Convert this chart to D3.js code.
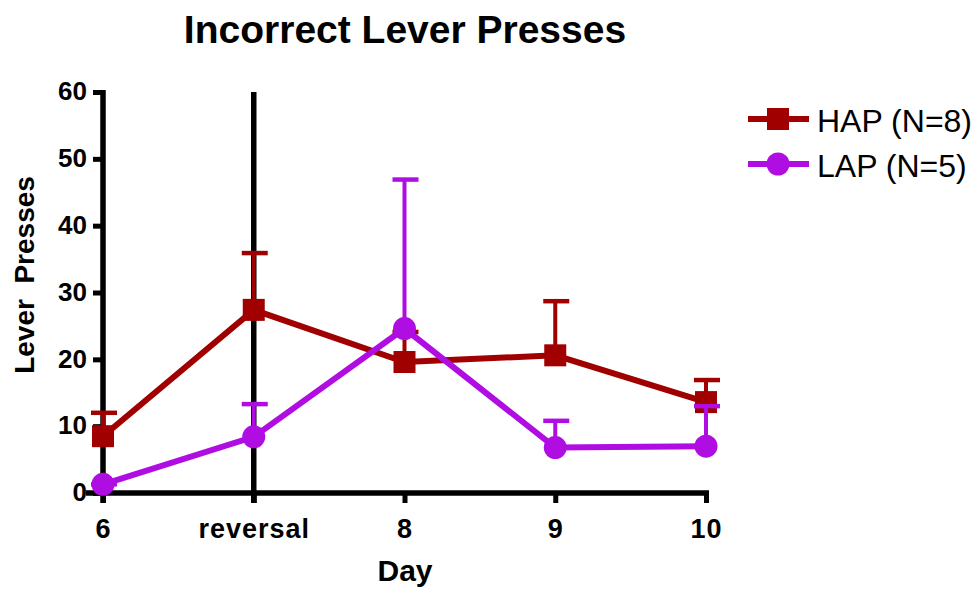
<!DOCTYPE html>
<html>
<head>
<meta charset="utf-8">
<script src="https://cdn.jsdelivr.net/npm/d3@7"></script>
<style>
  body { margin: 0; background: #fff; }
  text { font-family: "Liberation Sans", Arial, sans-serif; }
</style>
</head>
<body>
<svg id="chart" width="979" height="590"></svg>
<script>
// Chart data
const days = ["6", "reversal", "8", "9", "10"];
const hapMean = [8.5, 27.4, 19.6, 20.6, 13.6];
const hapErr = [12.0, 35.9, 24.1, 28.7, 16.9];
const lapMean = [1.3, 8.4, 24.6, 6.8, 7.0];
const lapErr = [1.3, 13.3, 46.9, 10.8, 13.0];
const yTicks = [0, 10, 20, 30, 40, 50, 60];
const seriesNames = ["HAP (N=8)", "LAP (N=5)"];

const svg = d3.select("#chart");
const plotLeft = 103, plotRight = 706, plotTop = 92, plotBottom = 493;

// scales
const x = d3.scalePoint().domain(days).range([plotLeft, plotRight]);
const y = d3.scaleLinear().domain([0, 60]).range([plotBottom, plotTop]);

// title
svg.append("text")
  .attr("x", 405).attr("y", 43)
  .attr("text-anchor", "middle")
  .style("font-size", "39px").style("font-weight", "bold")
  .text("Incorrect Lever Presses");

// the vertical line at reversal
svg.append("line")
  .attr("x1", x("reversal")).attr("x2", x("reversal"))
  .attr("y1", plotTop).attr("y2", plotBottom + 10)
  .attr("stroke", "#000").attr("stroke-width", 5.5);

// y axis
const yAxis = svg.append("g")
  .attr("transform", "translate(" + plotLeft + ",0)")
  .call(d3.axisLeft(y).tickValues(yTicks).tickSize(10).tickPadding(6));
yAxis.select(".domain").attr("d", "M0," + (plotTop - 2) + "V" + (plotBottom + 10))
  .attr("stroke-width", 5.5).attr("stroke", "#000");
yAxis.selectAll(".tick line").attr("stroke-width", 5).attr("stroke", "#000");
yAxis.selectAll(".tick text")
  .style("font-size", "26px").style("font-weight", "bold").attr("fill", "#000")
  .attr("dy", "0.3em");

// x axis
const xAxis = svg.append("g")
  .attr("transform", "translate(0," + plotBottom + ")")
  .call(d3.axisBottom(x).tickSize(10).tickPadding(16));
xAxis.select(".domain").attr("d", "M" + (plotLeft - 17) + ",0H" + (plotRight + 3))
  .attr("stroke-width", 5.5).attr("stroke", "#000");
xAxis.selectAll(".tick line").attr("stroke-width", 5).attr("stroke", "#000");
xAxis.selectAll(".tick text")
  .style("font-size", "27px").style("font-weight", "bold").attr("fill", "#000")
  .style("letter-spacing", "1px");

// axis titles
svg.append("text")
  .attr("x", 405).attr("y", 581)
  .attr("text-anchor", "middle")
  .style("font-size", "30px").style("font-weight", "bold")
  .text("Day");

svg.append("text")
  .attr("transform", "translate(34,275) rotate(-90)")
  .attr("text-anchor", "middle")
  .style("font-size", "28px").style("font-weight", "bold")
  .style("white-space", "pre")
  .text("Lever  Presses");

// draws one series: error bars, line, markers
function drawSeries(means, errs, color, shape) {
  const g = svg.append("g");
  means.forEach(function(m, i) {
    const cx = x(days[i]);
    g.append("line")
      .attr("x1", cx).attr("x2", cx)
      .attr("y1", y(m)).attr("y2", y(errs[i]))
      .attr("stroke", color).attr("stroke-width", 4);
    g.append("line")
      .attr("x1", cx - 12).attr("x2", cx + 14)
      .attr("y1", y(errs[i])).attr("y2", y(errs[i]))
      .attr("stroke", color).attr("stroke-width", 4.5);
  });
  g.append("path")
    .datum(means)
    .attr("d", d3.line().x((d, i) => x(days[i])).y(d => y(d)))
    .attr("fill", "none").attr("stroke", color).attr("stroke-width", 6);
  means.forEach(function(m, i) {
    marker(g, x(days[i]), y(m), color, shape);
  });
}

function marker(g, cx, cy, color, shape) {
  if (shape == "square") {
    g.append("rect")
      .attr("x", cx - 11).attr("y", cy - 11)
      .attr("width", 22).attr("height", 22)
      .attr("fill", color);
  } else {
    g.append("circle")
      .attr("cx", cx).attr("cy", cy).attr("r", 11.5)
      .attr("fill", color);
  }
}

const colors = ["#a00000", "#b00de3"];
drawSeries(hapMean, hapErr, colors[0], "square");
drawSeries(lapMean, lapErr, colors[1], "circle");

// legend
seriesNames.forEach(function(name, i) {
  const ly = 119 + i * 45;
  const lg = svg.append("g");
  lg.append("line")
    .attr("x1", 748).attr("x2", 809)
    .attr("y1", ly).attr("y2", ly)
    .attr("stroke", colors[i]).attr("stroke-width", 6);
  marker(lg, 778, ly, colors[i], i == 0 ? "square" : "circle");
  lg.append("text")
    .attr("x", 817).attr("y", ly + 13)
    .style("font-size", "32px")
    .text(name);
});
</script>
</body>
</html>
